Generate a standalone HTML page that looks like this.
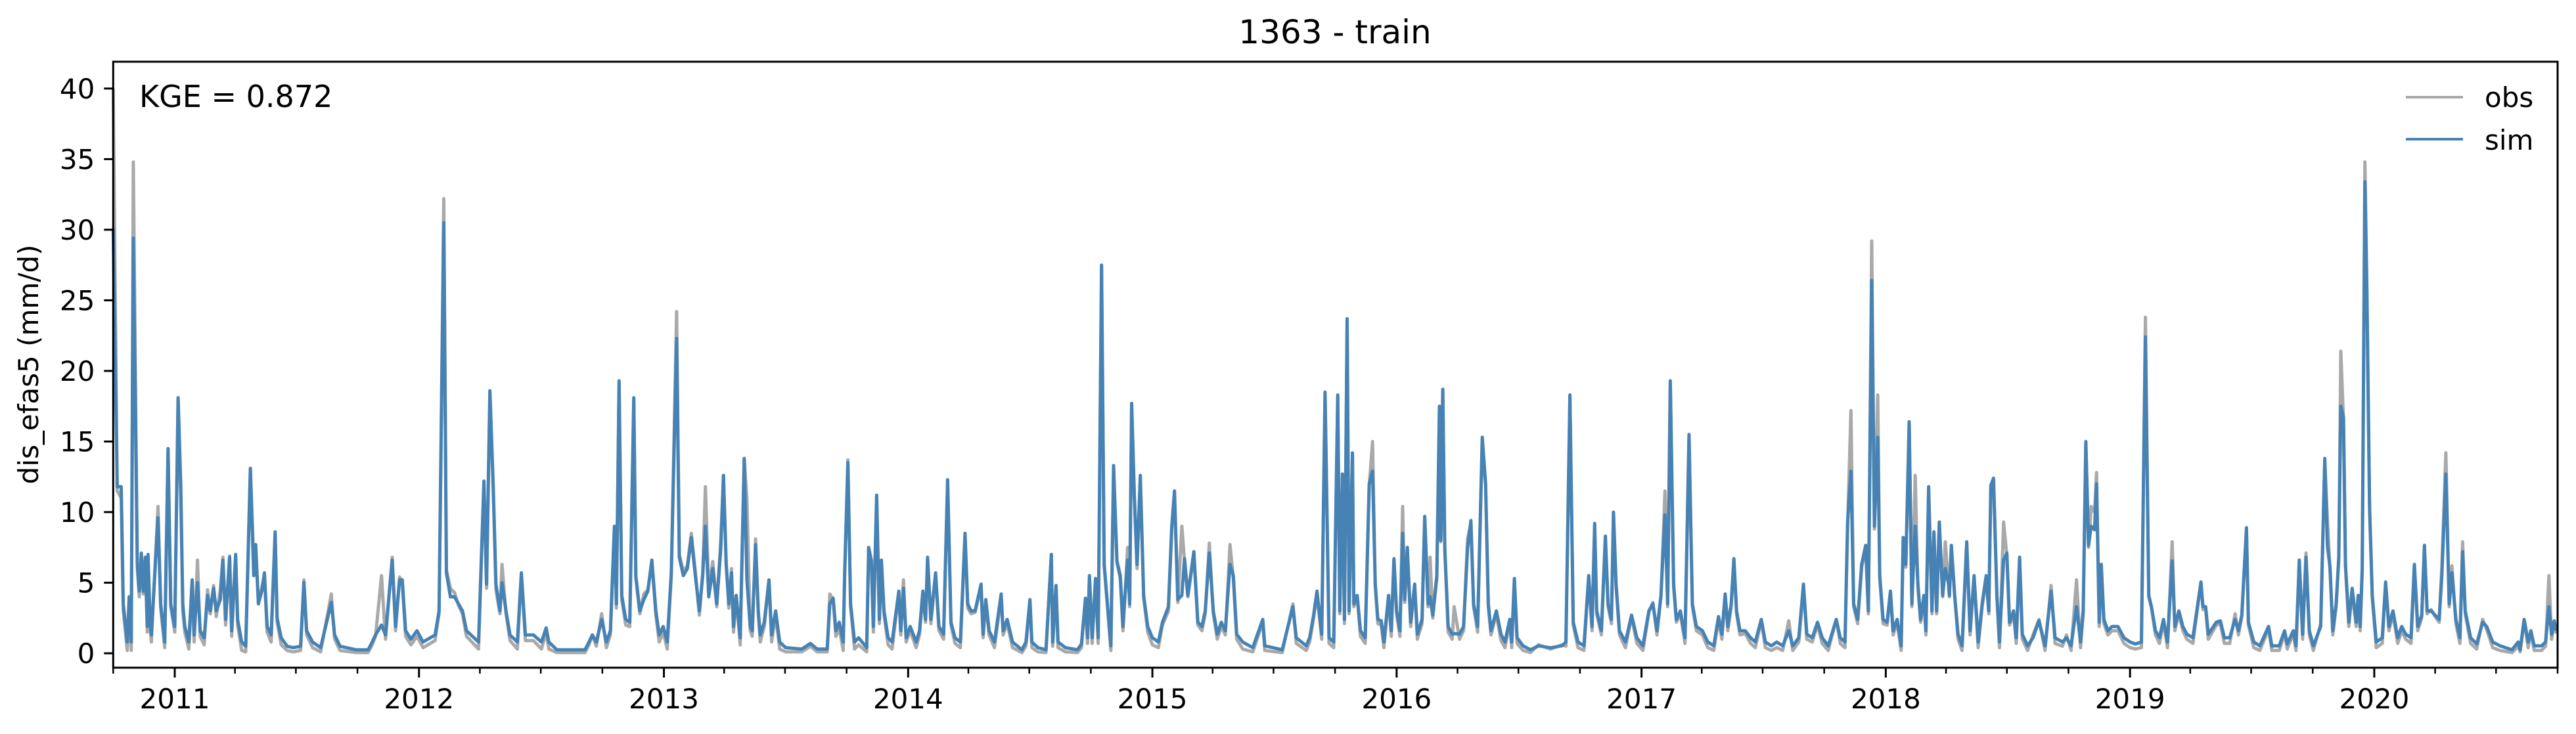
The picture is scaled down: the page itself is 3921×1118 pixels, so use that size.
<!DOCTYPE html>
<html><head><meta charset="utf-8"><style>
html,body{margin:0;padding:0;background:#fff;}
svg{display:block;font-family:"DejaVu Sans","Liberation Sans",sans-serif;}
</style></head><body>
<svg id="chart" width="3921" height="1118" viewBox="0 0 3921 1118" xmlns="http://www.w3.org/2000/svg">
<rect x="0" y="0" width="3921" height="1118" fill="#fff"/>
<text x="2032" y="66" font-size="50" text-anchor="middle">1363 - train</text>
<g id="plot"></g>
<g id="axes"></g>
<text x="212" y="163" font-size="46">KGE = 0.872</text>
<text transform="translate(58,555) rotate(-90)" font-size="42" text-anchor="middle">dis_efas5 (mm/d)</text>
<g>
<line x1="3662" y1="148" x2="3749" y2="148" stroke="#a9a9a9" stroke-width="4"/>
<text x="3782" y="163" font-size="42">obs</text>
<line x1="3662" y1="212" x2="3749" y2="212" stroke="#4682b4" stroke-width="4"/>
<text x="3782" y="228" font-size="42">sim</text>
</g>
</svg>
<script>
// day offsets from 2010-10-01
const days=[0,6,12,15,21,24,27,30,36,39,42,45,48,51,52,55,57,67,71,77,82,86,92,97,101,104,107,113,118,121,126,130,136,141,145,150,154,160,164,168,174,177,183,186,192,198,205,210,213,217,222,226,230,236,242,245,251,260,269,280,285,289,298,310,326,331,339,363,381,387,392,401,407,417,422,428,432,437,445,454,463,481,487,494,498,504,510,516,522,528,546,554,558,563,568,572,578,581,587,593,604,610,616,628,640,647,651,663,705,711,716,722,730,737,743,749,752,756,760,766,772,778,781,787,793,799,805,811,816,822,828,834,842,846,852,858,864,870,876,881,885,890,896,902,908,912,
916,920,924,927,931,937,943,947,952,955,960,964,967,973,980,984,990,996,1005,1029,1042,1052,1067,1071,1076,1080,1085,1091,1093,1098,1102,1108,1114,1126,1129,1133,1136,1141,1145,1148,1152,1158,1164,1174,1177,1181,1185,1191,1200,1205,1210,1214,1217,1222,1229,1234,1241,1247,1252,1258,1266,1273,1277,1282,1288,1297,1300,1304,1309,1317,1327,1330,1336,1344,1358,1364,1370,1373,1382,1394,1402,1404,1409,1412,1423,1441,1447,1453,1456,1459,1463,1468,1472,1477,1481,1491,1495,1500,1505,1509,1512,1516,1519,1522,1526,1530,1535,1540,1546,1553,1562,1568,1577,1582,1586,1591,1597,1601,1606,1615,1621,1627,1632,1638,1644,1650,1656,1662,1669,1674,1679,1688,1703,1718,1721,1747,1763,1768,1783,1788,1794,1799,1806,1811,1817,1824,
1830,1833,1837,1840,1844,1847,1852,1854,1859,1864,1871,1877,1882,1886,1890,1895,1899,1902,1906,1910,1914,1918,1923,1927,1930,1934,1939,1945,1949,1956,1960,1965,1968,1972,1978,1982,1984,1987,1990,1995,2001,2004,2012,2018,2024,2029,2033,2039,2046,2051,2055,2059,2067,2074,2080,2087,2090,2094,2098,2107,2118,2130,2148,2165,2171,2177,2182,2189,2198,2205,2210,2214,2217,2224,2230,2234,2239,2242,2246,2251,2260,2269,2277,2286,2295,2301,2307,2313,2319,2323,2327,2332,2336,2342,2349,2355,2360,2366,2375,2383,2392,2399,2404,2409,2413,2418,2422,2426,2431,2439,2447,2454,2463,2469,2478,2486,2495,2504,2510,2519,2526,2531,2539,2547,2554,2563,2575,2581,2588,2592,2597,2601,2607,2613,2619,2623,2628,2632,2637,2640,2645,2651,2656,2660,2666,2672,2675,2679,2684,2688,2693,2697,2701,2706,2709,2713,2718,2721,2725,2729,2734,2738,2743,
2744,2747,2752,2757,2763,2770,2775,2781,2787,2793,2799,2803,2806,2810,2815,2819,2825,2830,2834,2840,2844,2849,2853,2861,2869,2878,2887,2896,2902,2913,2919,2926,2934,2940,2944,2948,2952,2956,2961,2964,2968,2971,2975,2981,2987,2996,3005,3014,3022,3031,3037,3042,3046,3052,3058,3064,3070,3077,3081,3087,3093,3099,3108,3120,3123,3127,3131,3143,3149,3155,3163,3171,3176,3181,3188,3191,3199,3208,3221,3226,3237,3245,3249,3258,3262,3267,3272,3277,3282,3288,3299,3305,3309,3313,3317,3322,3326,3329,3333,3336,3341,3346,3352,3355,3358,3361,3365,3368,3372,3376,3382,3391,3396,3401,3407,3414,3420,3426,3434,3439,3444,3450,3454,3458,3464,3470,3476,3480,3486,3491,3495,3501,3507,3511,3515,3523,3532,3541,3547,3556,3567,3585,3594,3597,3603,3609,3613,3618,3629,3635,3640,3644,3648,3651];
const sim=[30.1,11.8,11.8,3.5,0.8,4,0.8,29.4,6.3,4.4,7.1,4.4,6.8,1.9,7,2.4,1.3,9.6,3.5,0.8,14.5,3.5,1.9,18.1,11.8,3.5,1.9,0.8,5.2,1.3,5.0,1.6,1.1,4.1,3,4.6,3,3.8,6.6,2.4,6.8,1.6,7,2.4,0.8,0.5,13.1,5.5,7.7,3.5,4.4,5.7,1.9,1.3,8.6,2.5,1.1,0.5,0.4,0.5,5.0,1.6,0.8,0.4,3.6,1.3,0.5,0.25,0.25,0.8,1.3,2,1.3,6.6,1.9,5.2,5.2,1.6,1,1.6,0.8,1.3,3,30.5,5.7,4.0,4.0,3.5,3,1.6,0.8,12.2,4.9,18.6,11.8,4.9,3,5,3,1.3,0.8,5.7,1.3,1.3,0.8,1.8,0.8,0.25,0.25,0.8,1.3,0.8,2.4,0.8,1.6,9,3.5,19.3,4.1,2.4,2.2,18.1,5.5,3,3.8,4.4,6.6,3,1.3,1.9,0.8,5.7,22.3,6.8,5.5,6,8.2,5.5,3,5.5,9,4,6,3.5,7.4,12.6,
6.3,3.5,5.7,1.9,4.1,1.1,13.8,5.2,1.9,1.6,7.7,3,1.3,2.2,5.2,1.3,3,0.8,0.4,0.3,0.7,0.3,0.3,3.5,3.9,1.6,2.2,0.8,5.5,13.5,3.5,0.8,1.1,0.4,7.5,6.6,1.9,11.2,2.4,6.6,3,1.1,0.8,4.4,1.6,4.6,1.1,1.9,0.8,1.6,4.4,2.4,6.8,2.4,5.7,1.9,1.35,12.3,2.2,1.1,0.8,8.5,3.5,3,3,4.9,1.35,3.8,1.6,0.8,4.2,1.6,2.4,0.8,0.25,0.8,3.8,0.8,0.4,0.25,7,0.8,4.8,0.8,0.4,0.25,0.66,3.9,1.1,5.5,1.1,5.3,1.1,27.5,6.3,0.53,13.3,6.55,5.5,1.9,4.1,6.6,3.5,17.7,11.2,6.3,12.6,4.1,1.9,1.1,0.8,2.2,3.3,9,11.5,3.8,4.1,6.7,4.1,7.2,2.2,1.9,3,7.1,3,1.35,2.2,1.6,6.3,5.5,1.35,0.8,0.4,2.4,0.53,0.25,3.3,1.1,0.53,1.1,2.7,4.4,1.35,18.5,1.1,0.8,
18.3,3,12.7,2.4,23.7,3,14.2,3.5,4.1,1.6,1.1,12,12.9,4.9,2.4,2.3,0.8,2.2,4.1,1.6,6.7,3,1.6,8.5,3.8,7.5,2.2,4.9,1.35,2.4,9.7,3.5,4,2.7,5.5,17.5,8,18.7,7.4,1.9,1.35,1.4,1.35,1.9,7.4,9.4,3.5,1.9,15.3,12,3.5,1.6,3,1.35,0.8,2.4,0.8,5.3,1.1,0.53,0.25,0.53,0.39,0.53,0.8,18.3,2.2,0.8,0.53,5.5,1.9,9.2,3,1.6,8.3,3.5,2.4,10,4.9,1.6,0.8,2.7,1.1,0.53,3,3.5,1.6,4.1,9.8,3.5,19.3,4.9,2.4,3,1.1,15.5,3.5,1.9,1.6,0.8,0.53,2.6,1.35,4.2,1.9,3.5,6.7,3,1.6,1.6,1.1,0.8,2.4,0.8,0.53,0.8,0.53,1.6,0.53,1.1,4.9,1.35,1.1,2.2,1.1,0.53,2.4,1.1,0.8,9.3,12.9,3.5,2.4,6.3,7.65,3,26.4,9,15.3,5.5,2.4,2.2,4.4,1.6,2.4,0.53,8.2,6.3,16.4,3.5,9,4.9,2.4,4.1,1.6,11.8,3,8.6,3,9.3,4.1,6,4.9,
4.1,7.65,4.1,1.35,0.53,7.9,1.6,5.5,0.8,3.5,5.5,3,11.9,12.4,4.1,0.8,6.6,7.1,2.2,3,1.1,6.8,1.35,0.53,1.1,2.3,0.53,4.4,1.1,0.8,1.1,0.53,3.3,0.8,3,15,7.65,9,8.75,12,2.2,6.3,2.4,1.6,1.9,1.9,1.1,0.8,0.66,0.8,22.4,4.1,3.3,1.6,1.1,2.4,0.8,6.55,1.9,3,1.9,1.35,1.1,5.05,3.3,3.3,1.35,2.2,2.3,1.1,1.1,2.4,1.6,2.7,8.9,2.2,0.8,0.53,1.9,0.53,0.53,1.6,0.66,1.6,0.53,6.6,1.35,6.8,1.6,0.53,1.9,13.8,7.65,6,1.6,3.5,6.8,17.5,16.7,6.3,2.2,4.6,2.2,4.1,1.9,6,33.4,25.5,10.4,4.1,0.8,1.1,5.05,1.9,3,1.1,1.9,1.35,1.1,6.3,1.9,2.7,7.65,3,3,2.7,2.4,5.5,12.7,3.5,5.7,2.4,1.1,7.2,3,1.1,0.66,2.2,1.9,0.8,0.53,0.25,0.8,0.25,2.4,0.8,1.6,0.53,0.53,0.8,3.3,1.35,2.3,1.6];
const obs=[40,11.5,11,3,0.2,3.8,0.2,34.8,6,4,7,4.2,6.5,1.5,6.8,2,0.8,10.4,3.2,0.4,14.3,3.3,1.5,18,11,3,1.5,0.3,5,0.8,6.6,1.2,0.6,4.5,2.8,4.8,2.6,4.5,6.8,2,6.9,1.2,6.8,2,0.2,0.1,13,6.5,7,3.8,4.6,5.5,1.5,0.8,8.4,2.2,0.6,0.2,0.1,0.2,5.2,1.3,0.4,0.1,4.2,1,0.2,0.05,0.05,0.6,1.2,5.5,1,6.8,1.6,5.4,5,1.2,0.6,1.2,0.4,0.9,2.8,32.2,5.9,4.6,4.3,3.4,2.8,1.2,0.3,12,4.6,18.4,11.5,4.5,2.8,6.3,2.8,0.9,0.3,5.6,0.9,0.9,0.3,1.5,0.3,0.05,0.05,0.6,1.3,0.5,2.8,0.4,1.3,8.8,3.2,19.1,3.8,2.0,1.9,17.9,5.3,2.8,4.2,4.5,6.5,2.7,0.8,1.5,0.3,5.5,24.2,7,5.8,6.2,8.5,5.8,2.7,5.7,11.8,4.5,6.5,3.3,8,12.5,
6.5,3.2,6,1.5,4,0.6,13.8,10.9,1.6,1.2,8.1,2.8,0.8,1.9,5.1,0.8,2.7,0.3,0.1,0.1,0.5,0.1,0.1,4.2,3.8,1.2,1.8,0.2,5.5,13.7,3.3,0.3,0.6,0.1,7.3,6.3,1.5,11,2.1,6.4,2.7,0.6,0.3,4.3,1.3,5.2,0.8,1.6,0.4,1.3,4.2,2.2,6.7,2.1,5.5,1.6,1,12.2,2.0,0.7,0.4,8.3,3.2,2.8,2.9,4.7,1.1,3.6,1.3,0.4,4.0,1.3,2.1,0.4,0.05,0.5,3.6,0.4,0.1,0.05,7,0.5,4.6,0.4,0.1,0.05,0.4,3.8,0.7,5.3,0.7,5.1,0.7,27.4,6.2,0.2,13.1,6.4,5.3,1.6,4,7.5,3.3,17.5,11,6,12.4,3.9,1.5,0.6,0.4,2.0,3.0,8.8,11.3,3.6,9,6.5,4.0,7.0,2.0,1.6,2.8,7.8,2.8,1,1.9,1.3,7.7,5.3,1,0.3,0.1,2.2,0.2,0.05,3.5,0.7,0.2,0.8,2.5,4.2,1,18.3,0.7,0.4,
18.1,2.8,12.5,2.1,23.5,2.8,14,3.3,4,1.2,0.7,11.8,15,4.8,2.1,2.0,0.4,1.9,4,1.2,6.6,2.8,1.2,10.4,3.6,7.3,1.9,4.7,1,2.1,9.5,3.3,6.8,2.5,5.3,17.3,7.9,18.5,7.2,1.5,1,3.3,1,1.6,8.1,9.2,3.3,1.5,15.1,11.8,3.3,1.3,2.8,0.9,0.4,2.2,0.4,5.1,0.7,0.2,0.05,0.6,0.3,0.6,0.5,18.1,2,0.4,0.2,5.3,1.6,9,2.8,1.3,8.1,3.3,2.1,9.8,4.7,1.3,0.4,2.6,0.7,0.2,2.9,3.6,1.3,4,11.5,3.3,19,4.7,2.2,2.8,0.7,15.3,3.3,1.6,1.3,0.4,0.2,2.4,1,4,1.6,3.3,6.5,2.8,1.3,1.4,0.7,0.4,2.3,0.4,0.2,0.4,0.2,2.3,0.2,0.8,4.7,1,0.8,2.0,0.7,0.2,2.4,0.7,0.4,9.1,17.2,3.3,2.1,6.1,7.5,2.8,29.2,8.8,18.3,5.3,2.1,2,4.2,1.3,2.2,0.2,8,6.1,16.2,3.3,12.6,4.7,2.2,3.9,1.3,11.6,2.8,8.4,2.8,9.1,4.0,7.9,4.7,
4.0,7.5,4,1,0.2,7.7,1.3,5.3,0.4,3.3,5.3,2.8,11.7,12.2,4,0.4,9.3,6.9,2,2.8,0.7,6.6,1,0.2,1.3,2.4,0.2,4.8,0.7,0.5,1.3,0.2,5.2,0.4,2.8,14.8,7.5,10.4,10,12.8,1.9,6.1,2.1,1.3,1.6,1.6,0.7,0.4,0.3,0.4,23.8,4,3.2,1.3,0.7,2.2,0.4,7.9,1.6,2.8,1.6,1,0.7,5,3.1,3.1,1,2,2.1,0.7,0.7,2.8,1.3,2.6,8.7,2,0.4,0.2,1.7,0.2,0.2,1.4,0.3,1.4,0.2,6.4,1,7.1,1.3,0.2,2.1,13.6,9.5,5.8,1.3,3.3,6.6,21.4,16.5,6.1,1.9,4.4,1.9,3.9,1.6,5.8,34.8,26,10.2,3.9,0.4,0.7,4.9,1.6,2.8,0.7,1.6,1,0.7,6.1,1.6,2.5,7.5,2.8,3.1,2.6,2.2,6.1,14.2,3.3,6.2,2.1,0.7,7.9,2.8,0.7,0.3,2.4,1.7,0.4,0.2,0.05,0.5,0.1,2.3,0.4,1.5,0.2,0.2,0.5,5.5,1,2.2,1.4];
const yTicks=[0,5,10,15,20,25,30,35,40];
const xYears=[2011,2012,2013,2014,2015,2016,2017,2018,2019,2020];

const NS='http://www.w3.org/2000/svg';
const X0=172.3,X1=3893,Y0=1017,Y1=94;
const D0=Date.UTC(2010,9,1),D1=Date.UTC(2020,9,1);
const totalDays=(D1-D0)/86400000;
const YMIN=-1.02,YMAX=41.9;
function xs(d){return X0+(d/totalDays)*(X1-X0);}
function ys(v){return Y0-(v-YMIN)/(YMAX-YMIN)*(Y0-Y1);}
function dayOf(y,m){return (Date.UTC(y,m,1)-D0)/86400000;}
function mk(tag,attrs,parent){const e=document.createElementNS(NS,tag);for(const k in attrs)e.setAttribute(k,attrs[k]);parent.appendChild(e);return e;}

const plot=document.getElementById('plot');
const axes=document.getElementById('axes');
function series(vals,color,name){
  let d='';
  for(let i=0;i<days.length;i++){d+=(i?'L':'M')+xs(days[i]).toFixed(1)+','+ys(vals[i]).toFixed(1);}
  const p=mk('path',{d:d,fill:'none',stroke:color,'stroke-width':5,'stroke-linejoin':'round'},plot);
  
  
}
series(obs,'#a9a9a9','obs-line');
series(sim,'#4682b4','sim-line');

const frame=mk('rect',{x:X0,y:Y1,width:X1-X0,height:Y0-Y1,fill:'none',stroke:'#000','stroke-width':3},axes);



yTicks.forEach(v=>{
  const y=ys(v);
  const t=mk('line',{x1:X0-14,y1:y,x2:X0,y2:y,stroke:'#000','stroke-width':3},axes);
  
  
  const l=mk('text',{x:X0-28,y:y+15,'font-size':42,'text-anchor':'end'},axes);
  l.textContent=String(v);
  
  
});

for(let yr=2010;yr<=2020;yr++){
  for(let m=0;m<12;m+=3){
    const d=dayOf(yr,m);
    if(d<0||d>totalDays)continue;
    const x=xs(d);
    const major=(m===0);
    const t=mk('line',{x1:x,y1:Y0,x2:x,y2:Y0+(major?15:9),stroke:'#000','stroke-width':major?3:2.5},axes);
    
    
  }
}
xYears.forEach(yr=>{
  const x=xs(dayOf(yr,0));
  const l=mk('text',{x:x,y:1079,'font-size':42,'text-anchor':'middle'},axes);
  l.textContent=String(yr);
  
  
});
</script>
</body></html>
